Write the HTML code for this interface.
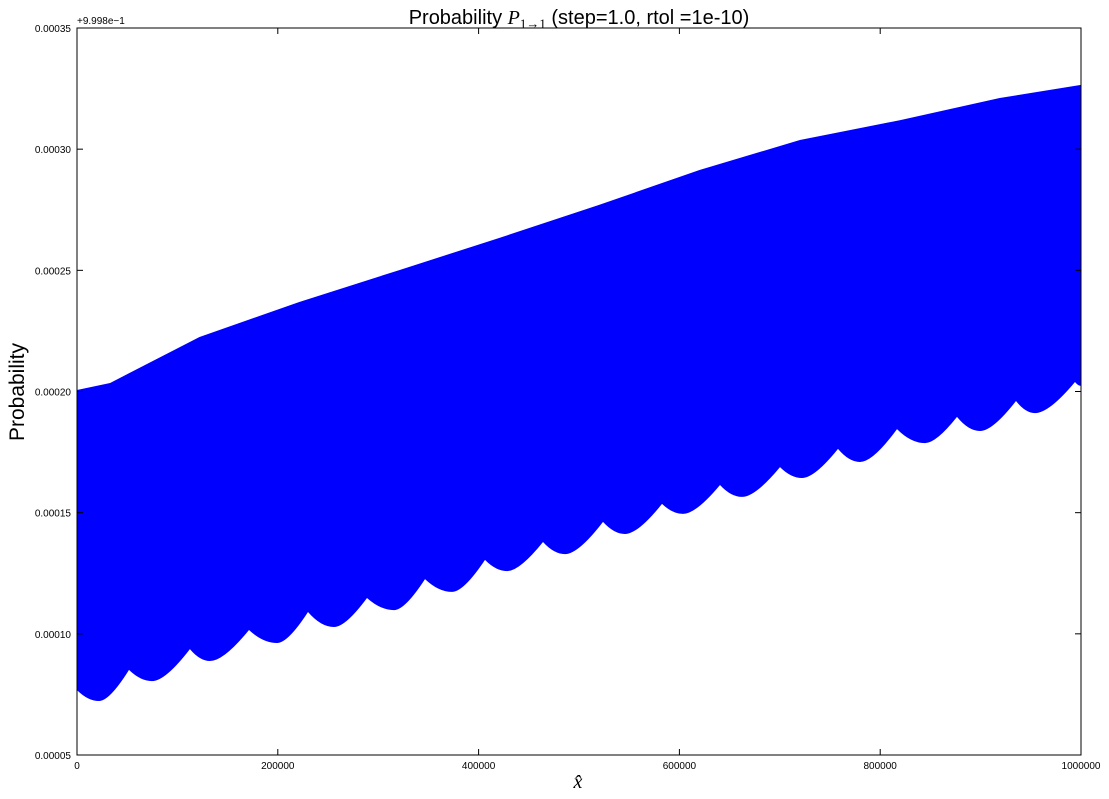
<!DOCTYPE html>
<html><head><meta charset="utf-8">
<style>
html,body{margin:0;padding:0;background:#fff;}
svg{display:block;font-family:"Liberation Sans",sans-serif;}
</style></head>
<body>
<svg id="chart" width="1109" height="799" xmlns="http://www.w3.org/2000/svg">
<rect width="1109" height="799" fill="#fff"/>
<text x="579" y="24" text-anchor="middle" font-size="20">Probability <tspan font-family="Liberation Serif" font-style="italic">P</tspan><tspan font-family="Liberation Serif" font-size="13" dy="4">1→1</tspan><tspan dy="-4"> (step=1.0, rtol =1e-10)</tspan></text>
<text x="77" y="24" font-size="10">+9.998e−1</text>
<g id="plot"></g>
<g id="axes"></g>
<text x="578" y="788" text-anchor="middle" font-size="20" font-family="Liberation Serif" font-style="italic">x̂</text>
<text transform="translate(24,392) rotate(-90)" text-anchor="middle" font-size="21">Probability</text>
</svg>
<script>
// x in thousands, y in 1e-5 units (offset +0.9998); lower envelope alternates cusp / minimum
const lowerX = [0,21.9,51.8,74.7,112.5,132.5,171.3,199.2,230.1,256.0,288.8,315.7,346.6,373.5,406.4,428.3,464.1,486.1,523.9,545.8,582.7,603.6,640.4,662.3,700.2,722.1,758.0,779.9,816.7,844.6,876.5,899.4,935.3,954.2,994.0,1000];
const lowerY = [7.68,7.23,8.51,8.05,9.37,8.88,10.16,9.62,10.90,10.28,11.48,10.98,12.26,11.73,13.05,12.59,13.79,13.29,14.62,14.12,15.36,14.95,16.14,15.65,16.88,16.43,17.63,17.09,18.45,17.87,18.95,18.37,19.61,19.11,20.39,20.23];
const upperX = [0,33,122,221,321,420,520,620,720,820,919,1000];
const upperY = [20.06,20.35,22.25,23.69,25.01,26.33,27.70,29.14,30.38,31.20,32.11,32.65];
const xTicks = [0,200000,400000,600000,800000,1000000];
const yTicks = ["0.00005","0.00010","0.00015","0.00020","0.00025","0.00030","0.00035"];

const L=77,R=1081,T=28,B=755;
const sx = k => L + k/1000*(R-L);
const sy = v => B - (v-5)/30*(B-T);
const NS="http://www.w3.org/2000/svg";
const plot=document.getElementById('plot'), axes=document.getElementById('axes');
const f = n => n.toFixed(1);

let d="";
upperX.forEach((x,i)=>{d+=(i?"L":"M")+f(sx(x))+","+f(sy(upperY[i]));});
const n=lowerX.length;
d+="L"+f(sx(lowerX[n-1]))+","+f(sy(lowerY[n-1]));
for(let i=n-2;i>=0;i--){
  const x0=sx(lowerX[i]),y0=sy(lowerY[i]),x1=sx(lowerX[i+1]),y1=sy(lowerY[i+1]);
  const dx=x1-x0;
  let cx,cy;
  if(i%2===0){cx=x0+0.5*dx;cy=y1;} else {cx=x0+0.35*dx;cy=y0;}
  d+="Q"+f(cx)+","+f(cy)+" "+f(x0)+","+f(y0);
}
d+="Z";
const band=document.createElementNS(NS,'path');
band.setAttribute('d',d);band.setAttribute('fill','#0000ff');


plot.appendChild(band);

const frame=document.createElementNS(NS,'rect');
frame.setAttribute('x',L);frame.setAttribute('y',T);frame.setAttribute('width',R-L);frame.setAttribute('height',B-T);
frame.setAttribute('fill','none');frame.setAttribute('stroke','#000');frame.setAttribute('stroke-width','1');


axes.appendChild(frame);

function line(x1,y1,x2,y2){const l=document.createElementNS(NS,'line');
l.setAttribute('x1',x1);l.setAttribute('y1',y1);l.setAttribute('x2',x2);l.setAttribute('y2',y2);
l.setAttribute('stroke','#000');axes.appendChild(l);return l;}
function txt(x,y,s,anchor){const t=document.createElementNS(NS,'text');
t.setAttribute('x',x);t.setAttribute('y',y);t.setAttribute('font-size','10');t.setAttribute('text-anchor',anchor);
t.textContent=s;axes.appendChild(t);return t;}

xTicks.forEach(v=>{const x=sx(v/1000);
const a=line(x,B,x,B-6);
const b=line(x,T,x,T+6);
const t=txt(x,B+14,String(v),'middle');

});
yTicks.forEach(s=>{const y=sy(parseFloat(s)*1e5);
const a=line(L,y,L+6,y);
const b=line(R,y,R-6,y);
const t=txt(L-6,y+4,s,'end');

});
</script>
</body></html>
